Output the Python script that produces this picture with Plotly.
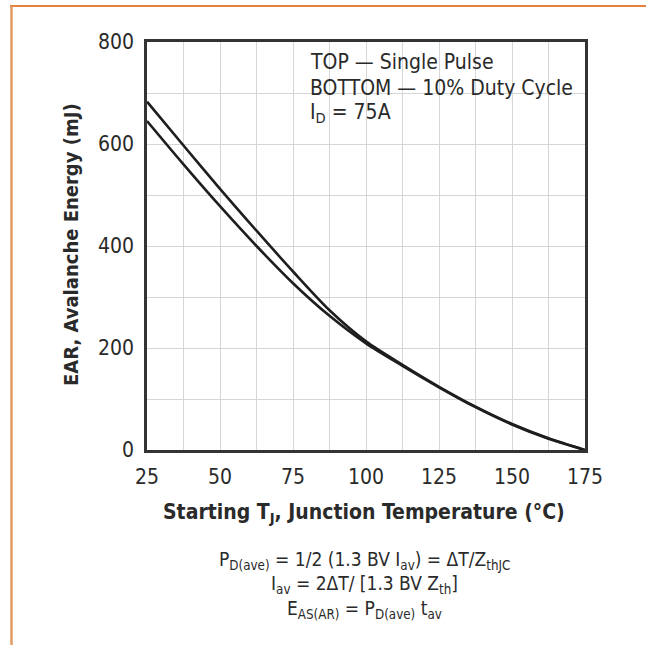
import plotly.graph_objects as go

# ---- data ----
temps = [25, 37.5, 50, 62.5, 75, 87.5, 100, 112.5, 125, 137.5, 150, 162.5, 175]
single_pulse = [683, 597, 512, 430, 350, 274, 213, 167, 124, 85, 51, 23, 0]
duty_cycle = [645, 560, 478, 400, 327, 263, 209, 165, 123, 84, 50, 22, 0]
x_ticks = [25, 50, 75, 100, 125, 150, 175]
y_ticks = [0, 200, 400, 600, 800]

legend_lines = ["TOP — Single Pulse", "BOTTOM — 10% Duty Cycle", "I<sub>D</sub> = 75A"]
formula_lines = [
    "P<sub>D(ave)</sub> = 1/2 (1.3 BV I<sub>av</sub>) = ΔT/Z<sub>thJC</sub>",
    "I<sub>av</sub> = 2ΔT/ [1.3 BV Z<sub>th</sub>]",
    "E<sub>AS(AR)</sub> = P<sub>D(ave)</sub> t<sub>av</sub>",
]
x_title = "<b>Starting T<sub>J</sub>, Junction Temperature (°C)</b>"
y_title = "<b>EAR, Avalanche Energy (mJ)</b>"

# ---- layout geometry ----
W, H = 646, 645
L, R, T, B = 147, 585, 42, 450
FONT = "DejaVu Sans Condensed, Liberation Sans Narrow, Arial Narrow, sans-serif"
INK = "#2a2a2a"


def px(x):
    return (x - L) / (R - L)


def py(y):
    return (B - y) / (B - T)


fig = go.Figure()
for name, vals in [("Single Pulse", single_pulse), ("10% Duty Cycle", duty_cycle)]:
    fig.add_trace(go.Scatter(x=temps, y=vals, mode="lines", name=name,
                             line=dict(color="#1e1e1e", width=2.6, shape="spline", smoothing=0.8)))

fig.update_layout(
    width=W, height=H,
    margin=dict(l=L, r=W - R, t=T, b=H - B),
    paper_bgcolor="white", plot_bgcolor="white",
    showlegend=False,
    font=dict(family=FONT, color=INK),
)
fig.update_xaxes(range=[25, 175], tickvals=x_ticks, ticks="", showgrid=False,
                 showline=True, mirror=True, linewidth=2.6, linecolor="#333",
                 tickfont=dict(size=21, family=FONT, color=INK), ticklabelstandoff=6,
                 zeroline=False,
                 minor=dict(dtick=12.5, tick0=25, showgrid=True, gridcolor="#d6d6d6", gridwidth=1))
fig.update_yaxes(range=[0, 800], tickvals=y_ticks, ticks="", showgrid=False,
                 showline=True, mirror=True, linewidth=2.6, linecolor="#333",
                 tickfont=dict(size=21, family=FONT, color=INK), ticklabelstandoff=6,
                 zeroline=False,
                 minor=dict(dtick=100, tick0=0, showgrid=True, gridcolor="#d6d6d6", gridwidth=1))

ann = []
for i, t in enumerate(legend_lines):
    ann.append(dict(x=px(308), y=py(62 + 25.5 * i), xref="paper", yref="paper", text=t,
                    showarrow=False, xanchor="left", yanchor="middle",
                    font=dict(size=21, family=FONT, color=INK)))
for i, t in enumerate(formula_lines):
    ann.append(dict(x=px(364), y=py(560 + 24.5 * i), xref="paper", yref="paper", text=t,
                    showarrow=False, xanchor="center", yanchor="middle",
                    font=dict(size=19, family=FONT, color=INK)))
ann.append(dict(x=px(364), y=py(513), xref="paper", yref="paper", text=x_title,
                showarrow=False, xanchor="center", yanchor="middle",
                font=dict(size=21, family=FONT, color=INK)))
ann.append(dict(x=px(71), y=py(245), xref="paper", yref="paper", text=y_title,
                showarrow=False, xanchor="center", yanchor="middle", textangle=-90,
                font=dict(size=20, family=FONT, color=INK)))
fig.update_layout(annotations=ann)

# orange page frame (top and left edges)
fig.add_shape(type="line", xref="paper", yref="paper", x0=px(10), x1=px(646), y0=py(6), y1=py(6),
              line=dict(color="#E5803F", width=2))
fig.add_shape(type="line", xref="paper", yref="paper", x0=px(11.5), x1=px(11.5), y0=py(6), y1=py(646),
              line=dict(color="#E39A63", width=2.5))

fig.write_html("out.html")
